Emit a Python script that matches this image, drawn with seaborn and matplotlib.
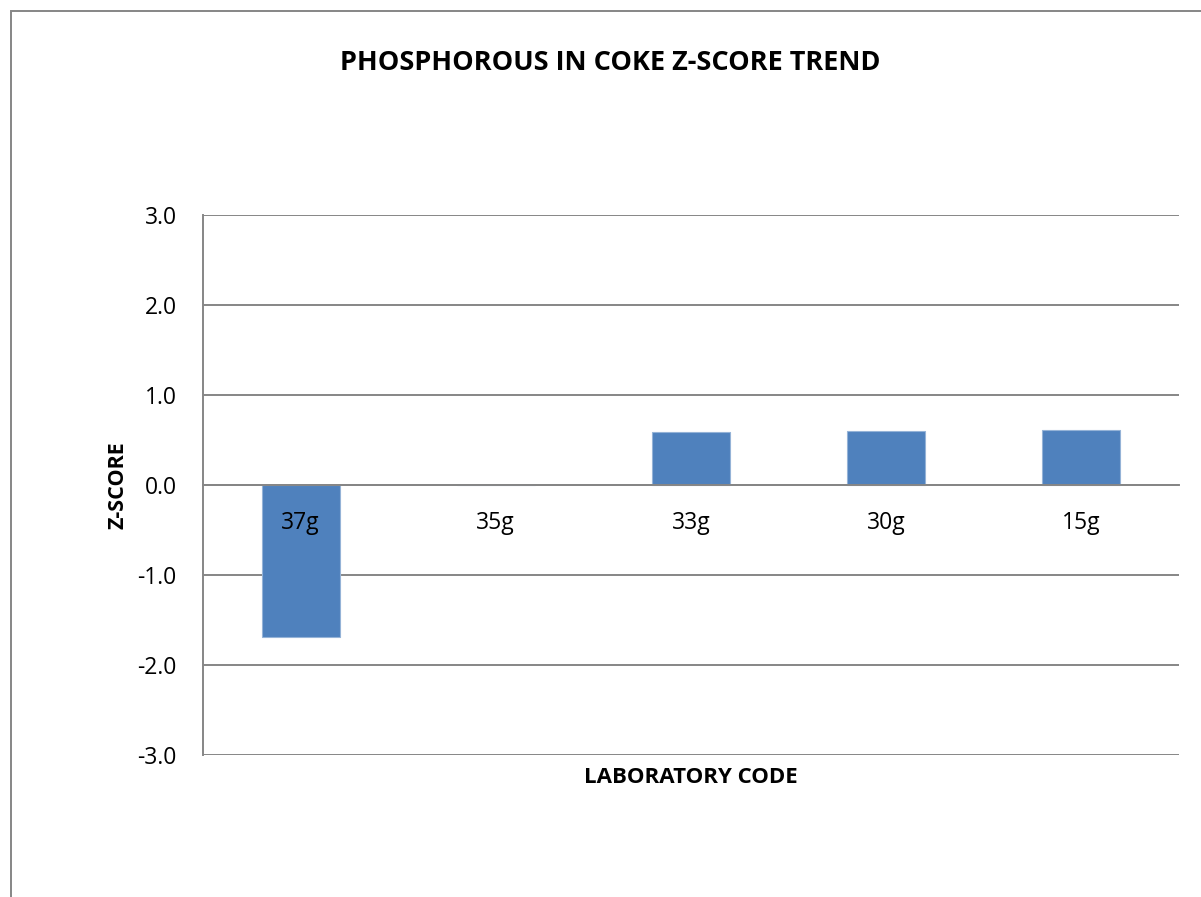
import matplotlib.pyplot as plt
import pandas as pd
import seaborn as sns
from matplotlib.patches import Rectangle

lab_codes = ["37g", "35g", "33g", "30g", "15g"]
z_scores = [-1.69, 0.0, 0.59, 0.60, 0.61]
y_ticks = [-3.0, -2.0, -1.0, 0.0, 1.0, 2.0, 3.0]

df = pd.DataFrame({"lab": lab_codes, "z": z_scores})

sns.set_style("white")
plt.rcParams["font.family"] = ["Open Sans", "DejaVu Sans"]
plt.rcParams["text.color"] = "black"
plt.rcParams["xtick.color"] = "black"
plt.rcParams["ytick.color"] = "black"
plt.rcParams["axes.labelcolor"] = "black"

fig = plt.figure(figsize=(12.01, 8.97), dpi=100)
ax = fig.add_axes([203 / 1201, 1 - 755 / 897, (1179 - 203) / 1201, (755 - 215) / 897])

sns.barplot(data=df, x="lab", y="z", color="#4f81bd", width=0.4,
            saturation=1, edgecolor="#95b3d7", linewidth=0.8, ax=ax, zorder=3)

ax.set_ylim(-3, 3)
ax.set_xlim(-0.5, len(lab_codes) - 0.5)
ax.set_yticks(y_ticks)
ax.set_yticklabels([f"{v:.1f}" for v in y_ticks], fontsize=16.5)
ax.yaxis.grid(True, color="#868686", linewidth=1.4)
ax.set_axisbelow(True)
# category labels sit on top of the bars
ax.xaxis.set_zorder(5)

for side in ["top", "right"]:
    ax.spines[side].set_visible(False)
ax.spines["left"].set_color("#868686")
ax.spines["left"].set_linewidth(1.4)
ax.spines["bottom"].set_position(("data", 0))
ax.spines["bottom"].set_color("#868686")
ax.spines["bottom"].set_linewidth(1.4)
ax.spines["bottom"].set_zorder(4)

ax.tick_params(axis="y", length=6, width=1.4, color="#868686", pad=13)
ax.tick_params(axis="x", length=0, pad=19, labelsize=16.5)

ax.set_xlabel("")
ax.set_ylabel("Z-SCORE", fontsize=15.5, fontweight="bold", labelpad=6)
ax.text(0.5, -0.042, "LABORATORY CODE", transform=ax.transAxes,
        ha="center", va="center", fontsize=16, fontweight="bold")

fig.text(610 / 1201, 1 - 63 / 897, "PHOSPHOROUS IN COKE Z-SCORE TREND",
         ha="center", va="center", fontsize=19.5, fontweight="bold")

fig.patches.append(Rectangle((11 / 1201, -0.1), 1.2, 1 - 11 / 897 + 0.1,
                             transform=fig.transFigure, fill=False,
                             edgecolor="#868686", linewidth=1.4))

fig.savefig("out.png", dpi=100)
